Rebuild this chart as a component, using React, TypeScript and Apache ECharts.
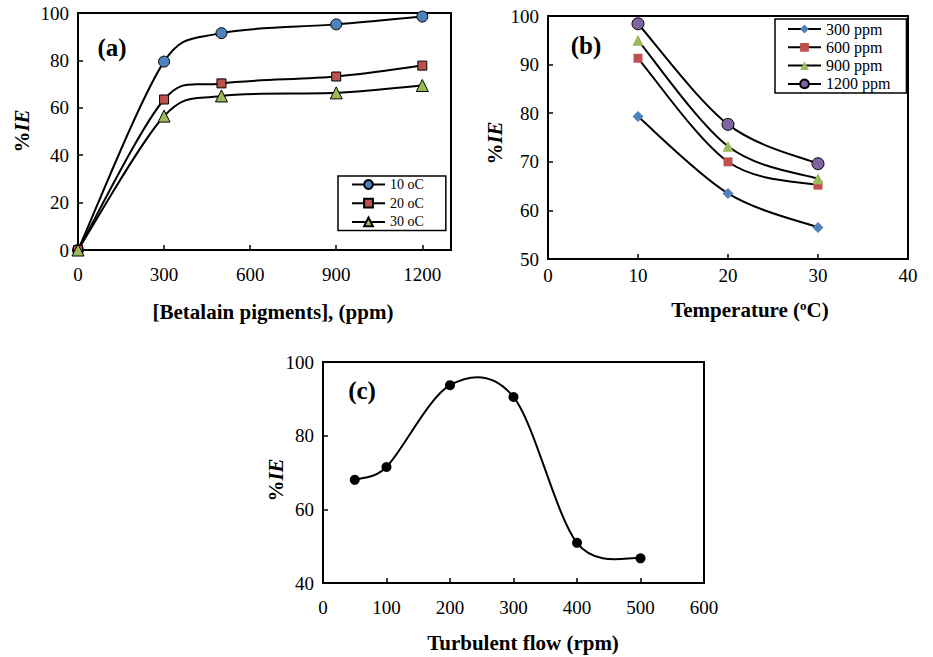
import React, { useEffect, useRef } from "react";
import * as echarts from "echarts";

// Panel (a): %IE vs concentration
const aConc = [0, 300, 500, 900, 1200];
const a10 = [0, 79.5, 91.5, 95.2, 98.5];
const a20 = [0, 63.5, 70.3, 73.2, 77.8];
const a30 = [0, 56.5, 65.0, 66.3, 69.4];

// Panel (b): %IE vs temperature
const bTemp = [10, 20, 30];
const b300 = [79.3, 63.5, 56.5];
const b600 = [91.3, 70.0, 65.2];
const b900 = [95.0, 73.2, 66.5];
const b1200 = [98.4, 77.7, 69.6];

// Panel (c): %IE vs turbulent flow
const cRpm = [50, 100, 200, 300, 400, 500];
const cIE = [68.0, 71.5, 93.7, 90.5, 50.9, 46.7];

const FONT = "Liberation Serif";

const pairs = (xs: number[], ys: number[]) => xs.map((x, i) => [x, ys[i]]);

const axisCommon = {
  axisLine: { show: true, onZero: false, lineStyle: { color: "#000", width: 2 } },
  axisTick: { show: true, inside: true, length: 5, lineStyle: { color: "#000", width: 1.5 } },
  splitLine: { show: false },
};

const dist = (a: number[], b: number[]) => Math.hypot(a[0] - b[0], a[1] - b[1]);

// Excel-like smoothed curve (cardinal spline, tension 1/6, arms capped at half the segment)
function curveSeries(name: string, data: number[][], grid: number) {
  return {
    name,
    type: "custom",
    xAxisIndex: grid,
    yAxisIndex: grid,
    data,
    z: 1,
    silent: true,
    clip: false,
    renderItem: (params: any, api: any) => {
      if (params.dataIndex !== 0) return null;
      const pts = data.map((d) => api.coord(d));
      const n = pts.length;
      const arm = (i: number, segLen: number) => {
        const prev = pts[Math.max(0, i - 1)];
        const next = pts[Math.min(n - 1, i + 1)];
        const v = [next[0] - prev[0], next[1] - prev[1]];
        const len = Math.hypot(v[0], v[1]) || 1;
        const f = Math.min(1 / 6, (0.5 * segLen) / len);
        return [v[0] * f, v[1] * f];
      };
      let d = `M${pts[0][0]},${pts[0][1]}`;
      for (let i = 0; i < n - 1; i++) {
        const p1 = pts[i];
        const p2 = pts[i + 1];
        const s = dist(p1, p2);
        const t1 = arm(i, s);
        const t2 = arm(i + 1, s);
        d += ` C${p1[0] + t1[0]},${p1[1] + t1[1]} ${p2[0] - t2[0]},${p2[1] - t2[1]} ${p2[0]},${p2[1]}`;
      }
      return {
        type: "path",
        shape: { pathData: d },
        style: { stroke: "#000", lineWidth: 2, fill: null },
      };
    },
  };
}

function markerSeries(name: string, data: number[][], grid: number, sym: any) {
  return {
    name,
    type: "line",
    xAxisIndex: grid,
    yAxisIndex: grid,
    data,
    z: 3,
    clip: false,
    lineStyle: { color: "#000", width: 2, opacity: 0 },
    symbol: sym.symbol,
    symbolSize: sym.size,
    itemStyle: {
      color: sym.color,
      borderColor: sym.border ? "#000" : sym.color,
      borderWidth: sym.border ? 1 : 0,
    },
    emphasis: { disabled: true },
  };
}

export default function App() {
  const ref = useRef<HTMLDivElement>(null);
  useEffect(() => {
    if (!ref.current) return;
    const chart = echarts.init(ref.current, undefined, { renderer: "svg" });
    const fmt = (v: number) => String(v);
    const xLabel = (margin: number) => ({
      color: "#000",
      fontFamily: FONT,
      fontSize: 19,
      margin,
      formatter: fmt,
    });
    const yLabel = { color: "#000", fontFamily: FONT, fontSize: 19, margin: 9, formatter: fmt };
    const ieText = (x: number, y: number) => ({
      type: "text",
      x,
      y,
      rotation: Math.PI / 2,
      style: {
        text: "{p|%}{i|IE}",
        align: "center",
        verticalAlign: "middle",
        rich: {
          p: { fontFamily: FONT, fontSize: 21, fontWeight: "bold", fill: "#000" },
          i: { fontFamily: FONT, fontSize: 21, fontWeight: "bold", fontStyle: "italic", fill: "#000" },
        },
      },
    });
    const boldText = (text: string, x: number, y: number, size: number) => ({
      type: "text",
      x,
      y,
      style: {
        text,
        align: "center",
        verticalAlign: "middle",
        fontFamily: FONT,
        fontSize: size,
        fontWeight: "bold",
        fill: "#000",
      },
    });
    const legendCommon = {
      orient: "vertical",
      itemWidth: 33,
      itemHeight: 11,
      backgroundColor: "#fff",
      borderColor: "#000",
      borderWidth: 1.5,
      borderRadius: 0,
      selectedMode: false,
      lineStyle: { color: "#000", width: 2, opacity: 1 },
    };
    const option: any = {
      animation: false,
      backgroundColor: "#fff",
      grid: [
        { left: 78, top: 13, width: 373, height: 237, show: true, borderColor: "#000", borderWidth: 2 },
        { left: 548, top: 16, width: 360, height: 243, show: true, borderColor: "#000", borderWidth: 2 },
        { left: 323, top: 362, width: 381, height: 221, show: true, borderColor: "#000", borderWidth: 2 },
      ],
      xAxis: [
        { type: "value", gridIndex: 0, min: 0, max: 1300, interval: 300, ...axisCommon, axisLabel: { ...xLabel(15), showMaxLabel: false } },
        { type: "value", gridIndex: 1, min: 0, max: 40, interval: 10, ...axisCommon, axisLabel: xLabel(7) },
        { type: "value", gridIndex: 2, min: 0, max: 600, interval: 100, ...axisCommon, axisLabel: xLabel(15) },
      ],
      yAxis: [
        { type: "value", gridIndex: 0, min: 0, max: 100, interval: 20, ...axisCommon, axisLabel: yLabel },
        { type: "value", gridIndex: 1, min: 50, max: 100, interval: 10, ...axisCommon, axisLabel: yLabel },
        { type: "value", gridIndex: 2, min: 40, max: 100, interval: 20, ...axisCommon, axisLabel: yLabel },
      ],
      legend: [
        {
          ...legendCommon,
          data: ["10 oC", "20 oC", "30 oC"],
          left: 338,
          top: 176,
          padding: [1, 22, 1, 13],
          itemGap: 3.7,
          textStyle: { fontFamily: FONT, fontSize: 14, lineHeight: 15, color: "#000" },
        },
        {
          ...legendCommon,
          data: ["300 ppm", "600 ppm", "900 ppm", "1200 ppm"],
          left: 775,
          top: 19,
          padding: [2, 16, 1, 12],
          itemGap: 2.3,
          textStyle: { fontFamily: FONT, fontSize: 16, lineHeight: 16, color: "#000" },
        },
      ],
      series: [
        curveSeries("c10", pairs(aConc, a10), 0),
        curveSeries("c20", pairs(aConc, a20), 0),
        curveSeries("c30", pairs(aConc, a30), 0),
        curveSeries("c300", pairs(bTemp, b300), 1),
        curveSeries("c600", pairs(bTemp, b600), 1),
        curveSeries("c900", pairs(bTemp, b900), 1),
        curveSeries("c1200", pairs(bTemp, b1200), 1),
        curveSeries("crpm", pairs(cRpm, cIE), 2),
        markerSeries("10 oC", pairs(aConc, a10), 0, { symbol: "circle", size: 11, color: "#4F81BD", border: true }),
        markerSeries("20 oC", pairs(aConc, a20), 0, { symbol: "rect", size: 9, color: "#C0504D", border: true }),
        markerSeries("30 oC", pairs(aConc, a30), 0, { symbol: "triangle", size: 12, color: "#9BBB59", border: true }),
        markerSeries("300 ppm", pairs(bTemp, b300), 1, { symbol: "diamond", size: 11, color: "#4F81BD", border: false }),
        markerSeries("600 ppm", pairs(bTemp, b600), 1, { symbol: "rect", size: 9, color: "#C0504D", border: false }),
        markerSeries("900 ppm", pairs(bTemp, b900), 1, { symbol: "triangle", size: 11, color: "#9BBB59", border: false }),
        markerSeries("1200 ppm", pairs(bTemp, b1200), 1, { symbol: "circle", size: 12, color: "#8064A2", border: true }),
        markerSeries("rpm", pairs(cRpm, cIE), 2, { symbol: "circle", size: 10, color: "#000", border: false }),
      ],
      graphic: [
        boldText("(a)", 112, 47, 25),
        boldText("(b)", 586, 45, 25),
        boldText("(c)", 362, 390, 25),
        boldText("[Betalain pigments], (ppm)", 273, 312, 21),
        {
          type: "text",
          x: 750,
          y: 310,
          style: {
            text: "{t|Temperature (}{s|o}{t|C)}",
            align: "center",
            verticalAlign: "middle",
            rich: {
              t: { fontFamily: FONT, fontSize: 21, fontWeight: "bold", fill: "#000" },
              s: { fontFamily: FONT, fontSize: 13, fontWeight: "bold", fill: "#000", padding: [0, 0, 9, 0] },
            },
          },
        },
        boldText("Turbulent flow (rpm)", 523, 643, 21),
        ieText(22, 131),
        ieText(495, 143),
        ieText(276, 480),
      ],
    };
    chart.setOption(option);
    return () => chart.dispose();
  }, []);
  return (
    <div
      ref={ref}
      style={{ position: "fixed", left: 0, top: 0, width: 933, height: 657, background: "#fff" }}
    />
  );
}
